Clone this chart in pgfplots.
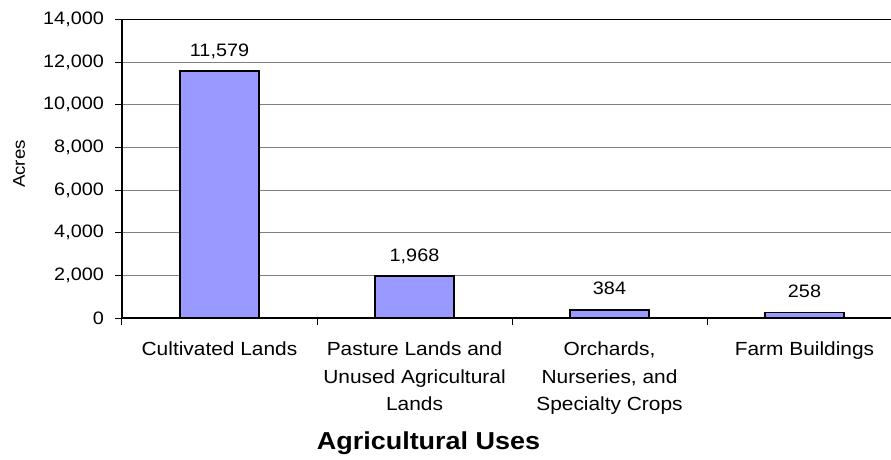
\documentclass[border=0pt]{standalone}
\usepackage{fontspec}
\setmainfont[FakeStretch=1.1]{Liberation Sans}
\usepackage{pgfplots}
\pgfplotsset{compat=1.18}
\definecolor{barfill}{RGB}{153,153,255}
\definecolor{gridgray}{RGB}{128,128,128}
\begin{document}
\begin{tikzpicture}
\begin{axis}[
  at={(0pt,0pt)}, anchor=south west,
  scale only axis, width=769pt, height=298.5pt,
  xmin=0.5, xmax=4.4436, ymin=0, ymax=14000,
  axis x line=box, axis y line=left,
  axis line style={-, line width=1.6pt, black},
  tick align=outside, xtick pos=bottom, ytick pos=left,
  major tick length=7pt,
  tick style={line width=1pt, black},
  ytick={0,2000,4000,6000,8000,10000,12000,14000},
  scaled y ticks=false,
  /pgf/number format/.cd, fixed, 1000 sep={,}, assume math mode=true, /pgfplots/.cd,
  yticklabel style={font=\fontsize{18}{20}\selectfont, inner sep=0pt, xshift=-11pt},
  ymajorgrids, grid style={line width=1pt, gridgray},
  xtick={0.5,1.5,2.5,3.5},
  xticklabels={,,,},
  extra x ticks={1,2,3,4},
  extra x tick labels={Cultivated Lands, {Pasture Lands and\\Unused Agricultural\\Lands}, {Orchards,\\Nurseries, and\\Specialty Crops}, Farm Buildings},
  extra x tick style={major tick length=0pt, grid=none,
    xticklabel style={font=\fontsize{19}{27.5}\selectfont, align=center, anchor=north, inner sep=0pt, yshift=-24pt}},
  ybar, bar width=79pt,
  nodes near coords,
  every node near coord/.append style={font=\fontsize{18}{20}\selectfont, anchor=base, inner sep=0pt, yshift=15pt},
  clip=false,
]
\addplot[fill=barfill, draw=black, line width=1.4pt] coordinates {(1,11579) (2,1968) (3,384) (4,258)};
\end{axis}
\node[anchor=base, rotate=90, font=\fontsize{17}{20}\selectfont] at (-97pt,154pt) {Acres};
\node[anchor=base, font=\fontsize{24.5}{28}\bfseries] at (306.5pt,-131pt) {Agricultural Uses};
\pgfresetboundingbox
\useasboundingbox (-122pt,-142pt) rectangle (769pt,318pt);
\end{tikzpicture}
\end{document}
